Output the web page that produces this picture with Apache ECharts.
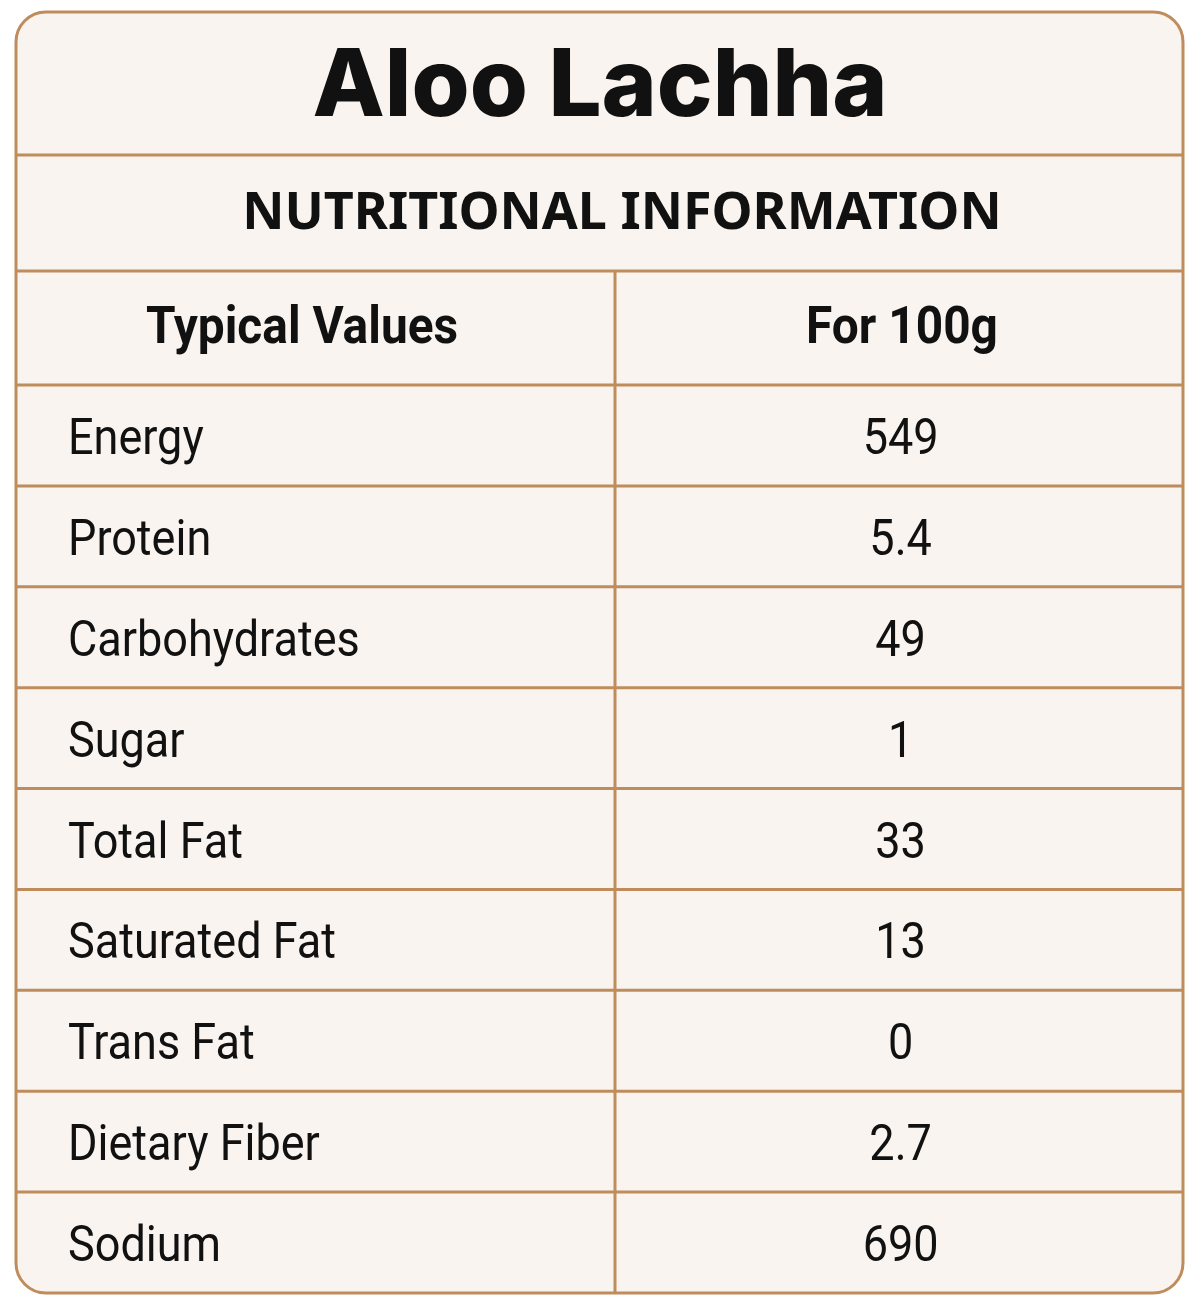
<!DOCTYPE html>
<html><head><meta charset="utf-8">
<script src="https://cdn.jsdelivr.net/npm/echarts@6/dist/echarts.min.js"></script>
<style>html,body{margin:0;padding:0;background:#fff}#c{width:1200px;height:1301px}</style>
</head><body><div id="c"></div>
<script>
const title = "Aloo Lachha";
const subtitle = "NUTRITIONAL INFORMATION";
const headers = ["Typical Values", "For 100g"];
const nutrients = ["Energy","Protein","Carbohydrates","Sugar","Total Fat","Saturated Fat","Trans Fat","Dietary Fiber","Sodium"];
const values = ["549","5.4","49","1","33","13","0","2.7","690"];

const BR = '#bf8c5c', BG = '#f9f4f0';
const FONT = '50px Roboto, sans-serif';
const chart = echarts.init(document.getElementById('c'));
const L = 16, R = 1183, T = 12, B = 1293;
chart.setOption({
  backgroundColor: '#fff',
  animation: false,
  grid: {left: L, right: 1200 - R, top: 385, bottom: 1301 - B},
  xAxis: {type: 'value', min: 0, max: 1, show: false},
  yAxis: {type: 'category', data: nutrients, inverse: true, show: false},
  graphic: [
    {type: 'rect', z: 0, shape: {x: L, y: T, width: R - L, height: B - T, r: 30},
     style: {fill: BG, stroke: BR, lineWidth: 3}},
    {type: 'text', z: 5, x: 600, y: 88, style: {text: title, font: '800 94px Inter, "Noto Sans", sans-serif',
     fill: '#111', align: 'center', verticalAlign: 'middle'}},
    {type: 'line', z: 5, shape: {x1: L, y1: 155, x2: R, y2: 155}, style: {stroke: BR, lineWidth: 3}},
    {type: 'text', z: 5, x: 622, y: 214, style: {text: subtitle, font: 'bold 52px "Noto Sans", sans-serif',
     fill: '#111', align: 'center', verticalAlign: 'middle'}},
    {type: 'line', z: 5, shape: {x1: L, y1: 271, x2: R, y2: 271}, style: {stroke: BR, lineWidth: 3}},
    {type: 'line', z: 5, shape: {x1: 615, y1: 271, x2: 615, y2: B}, style: {stroke: BR, lineWidth: 3}},
    {type: 'text', z: 5, x: 302, y: 330, scaleX: 0.92, style: {text: headers[0], font: 'bold 52px Roboto, sans-serif',
     fill: '#111', align: 'center', verticalAlign: 'middle'}},
    {type: 'text', z: 5, x: 902, y: 330, scaleX: 0.92, style: {text: headers[1], font: 'bold 52px Roboto, sans-serif',
     fill: '#111', align: 'center', verticalAlign: 'middle'}}
  ],
  series: [{
    type: 'custom', z: 10,
    data: nutrients.map((n, i) => [0, i]),
    renderItem: function (params, api) {
      const i = api.value(1);
      const c = api.coord([0, i]);
      const h = api.size([0, 1])[1];
      const vx = api.coord([0.758, i])[0];
      return {type: 'group', children: [
        {type: 'text', x: c[0] + 52, y: c[1] + 6, scaleX: 0.9, style: {text: nutrients[i], font: FONT,
          fill: '#111', align: 'left', verticalAlign: 'middle'}},
        {type: 'text', x: vx, y: c[1] + 6, scaleX: 0.9, style: {text: values[i], font: FONT,
          fill: '#111', align: 'center', verticalAlign: 'middle'}},
        {type: 'line', shape: {x1: L, y1: c[1] - h / 2, x2: R, y2: c[1] - h / 2}, style: {stroke: BR, lineWidth: 3}}
      ]};
    }
  }]
});
</script></body></html>
